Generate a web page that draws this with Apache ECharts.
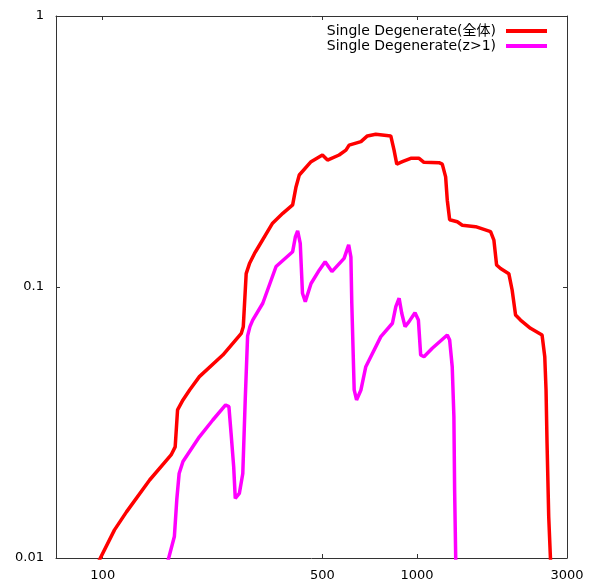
<!DOCTYPE html>
<html>
<head>
<meta charset="utf-8">
<script src="https://cdn.jsdelivr.net/npm/echarts@6/dist/echarts.min.js"></script>
<style>
  html, body { margin: 0; padding: 0; background: #fff; }
  #chart { width: 594px; height: 586px; }
</style>
</head>
<body>
<div id="chart"></div>
<script>
// values (x on a log scale)
const seriesNames = ['Single Degenerate(全体)', 'Single Degenerate(z>1)'];

const allX = [97, 109, 119, 141, 165, 170, 173, 180, 189, 203, 241, 276, 280, 286, 293, 304, 311,
  347, 374, 402, 412, 422, 460, 500, 519, 565, 594, 608, 663, 695, 739, 825, 845, 862, 898, 955,
  1015, 1052, 1175, 1203, 1233, 1248, 1270, 1343, 1393, 1536, 1714, 1756, 1791, 1844, 1959, 2007,
  2058, 2134, 2296, 2499, 2549, 2573, 2592, 2624, 2660];
const allY = [0.0097, 0.0127, 0.0148, 0.0194, 0.024, 0.0257, 0.0352, 0.0383, 0.0417, 0.0467, 0.0561,
  0.0675, 0.0714, 0.112, 0.122, 0.133, 0.139, 0.172, 0.187, 0.201, 0.234, 0.259, 0.290, 0.307, 0.294,
  0.307, 0.320, 0.334, 0.344, 0.361, 0.366, 0.361, 0.320, 0.284, 0.290, 0.2985, 0.2985, 0.2885, 0.2875,
  0.284, 0.255, 0.209, 0.177, 0.174, 0.169, 0.167, 0.160, 0.149, 0.1206, 0.117, 0.112, 0.0975, 0.0788,
  0.0755, 0.0704, 0.0665, 0.0553, 0.0417, 0.0265, 0.0142, 0.0097];

const highZX = [161, 169, 172, 175, 180, 203, 224, 246, 252, 256, 261, 264, 272, 279, 284, 289, 294,
  300, 323, 356, 402, 410, 417, 425, 432, 441, 460, 489, 510, 536, 586, 606, 616, 620, 631, 642, 663,
  687, 767, 835, 856, 877, 894, 916, 943, 985, 1010, 1027, 1052, 1118, 1248, 1270, 1294, 1310, 1317, 1328];
const highZY = [0.0097, 0.0120, 0.0164, 0.0205, 0.0227, 0.0280, 0.0323, 0.0367, 0.0362, 0.0289, 0.0217,
  0.0166, 0.0173, 0.0205, 0.0383, 0.066, 0.0714, 0.0755, 0.0871, 0.119, 0.135, 0.153, 0.161, 0.145,
  0.0948, 0.0883, 0.103, 0.1156, 0.124, 0.114, 0.1276, 0.143, 0.129, 0.0871, 0.0417, 0.0383, 0.0417,
  0.0508, 0.0656, 0.0735, 0.0846, 0.0909, 0.0800, 0.0714, 0.0745, 0.0804, 0.0755, 0.0561, 0.0553,
  0.0594, 0.0665, 0.0637, 0.0508, 0.0332, 0.0178, 0.0097];

const xTickLabels = [100, 500, 1000, 3000];
const yTickLabels = [0.01, 0.1, 1];
const xMin = 71, xMax = 3000;

const lg = v => Math.log10(v);
const pairs = (xs, ys) => xs.map((x, i) => [lg(x), ys[i]]);
const xTicks = xTickLabels.map(lg);

const axisLineStyle = { color: '#333', width: 1 };
const labelFont = { color: '#000', fontSize: 13, fontFamily: 'DejaVu Sans' };
const legendFont = { color: '#000', fontSize: 14, fontFamily: 'DejaVu Sans, Noto Sans CJK JP', padding: [0, 5, 0, 0] };

const xAxisBase = {
  type: 'value',
  min: lg(xMin),
  max: lg(xMax),
  splitLine: { show: false },
  axisLine: { show: true, lineStyle: axisLineStyle },
  axisTick: { show: true, inside: true, length: 4, customValues: xTicks, lineStyle: axisLineStyle }
};
const yAxisBase = {
  type: 'log',
  logBase: 10,
  min: yTickLabels[0],
  max: yTickLabels[yTickLabels.length - 1],
  splitLine: { show: false },
  axisLine: { show: true, lineStyle: axisLineStyle },
  axisTick: { show: true, inside: true, length: 4, lineStyle: axisLineStyle }
};

const chart = echarts.init(document.getElementById('chart'));
chart.setOption({
  animation: false,
  backgroundColor: '#fff',
  grid: { left: 56, right: 27, top: 16, bottom: 28 },
  legend: [
    {
      data: [seriesNames[0]],
      right: 47, top: 24, padding: 0,
      align: 'right', icon: 'rect', itemWidth: 41, itemHeight: 4,
      textStyle: legendFont
    },
    {
      data: [seriesNames[1]],
      right: 47, top: 39, padding: 0,
      align: 'right', icon: 'rect', itemWidth: 41, itemHeight: 4,
      textStyle: legendFont
    }
  ],
  xAxis: [
    Object.assign({}, xAxisBase, {
      position: 'bottom',
      axisLabel: Object.assign({ margin: 11, customValues: xTicks,
        formatter: v => String(Math.round(Math.pow(10, v))) }, labelFont)
    }),
    Object.assign({}, xAxisBase, { position: 'top', axisLabel: { show: false } })
  ],
  yAxis: [
    Object.assign({}, yAxisBase, {
      position: 'left',
      axisLabel: Object.assign({ margin: 12 }, labelFont)
    }),
    Object.assign({}, yAxisBase, { position: 'right', axisLabel: { show: false } })
  ],
  series: [
    {
      name: seriesNames[0], type: 'line', showSymbol: false, symbol: 'none',
      color: '#ff0000', lineStyle: { width: 3.5 },
      data: pairs(allX, allY)
    },
    {
      name: seriesNames[1], type: 'line', showSymbol: false, symbol: 'none',
      color: '#ff00ff', lineStyle: { width: 3.5 },
      data: pairs(highZX, highZY)
    }
  ]
});
</script>
</body>
</html>
